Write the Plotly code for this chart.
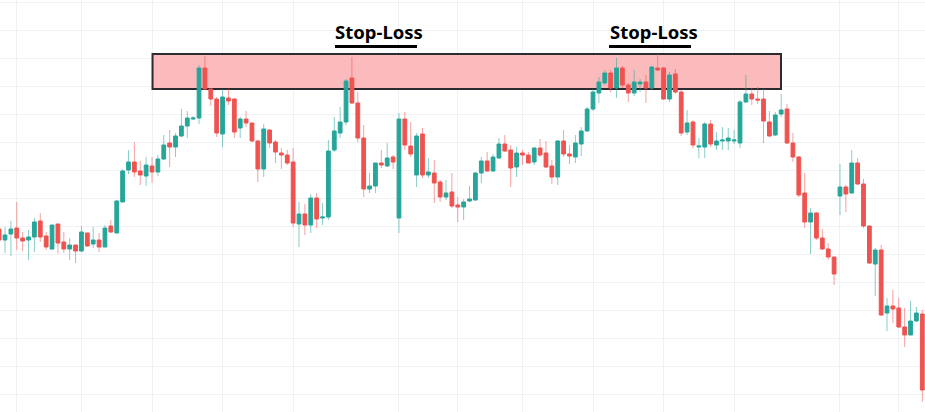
import plotly.graph_objects as go

# ---- data (price units) ----
opens = [271,260,266,272,262,260,263,279,264,251,
         276,258,251,255,249,267,256,260,253,274,
         267,298,330,338,329,324,334,328,341,357,
         353,364,374,381,382,432,411,401,366,402,
         401,372,381,377,359,331,370,358,347,345,
         338,276,286,275,302,282,283,350,367,378,
         422,397,362,311,314,337,334,343,282,381,
         354,325,366,325,327,318,303,308,295,293,
         299,300,327,339,329,342,356,350,333,347,
         345,338,352,347,334,323,359,346,343,356,
         369,391,407,417,427,412,432,415,407,416,
         418,412,432,432,401,426,408,368,378,353,
         353,376,355,359,359,359,357,398,406,401,
         401,378,365,386,391,357,343,307,278,287,
         262,251,243,304,313,307,337,316,274,236,
         250,187,194,192,173,165,179,186]
highs = [276,273,279,298,268,270,282,287,268,275,
         276,268,262,255,274,267,273,267,275,280,
         300,331,350,358,339,343,343,345,365,370,
         367,391,389,384,435,444,411,403,411,411,
         402,383,389,377,360,376,371,360,352,350,
         352,298,296,306,307,297,360,383,393,421,
         443,408,375,327,337,350,357,345,387,388,
         378,367,372,342,340,320,320,327,303,301,
         314,328,343,348,346,362,365,355,353,350,
         348,353,361,359,340,360,370,355,365,373,
         393,411,423,430,430,442,434,417,430,421,
         425,434,446,433,428,431,410,390,380,362,
         378,380,368,373,372,370,400,425,412,413,
         411,389,388,406,396,367,344,327,292,288,
         271,257,243,336,315,350,342,321,274,252,
         255,202,210,202,192,199,193,190]
lows = [252,247,244,250,249,240,248,258,250,250,
        247,247,240,237,248,253,252,248,253,267,
        267,298,326,323,315,314,317,324,340,333,
        343,363,362,380,376,410,394,363,353,395,
        362,362,373,358,318,323,352,337,331,335,
        273,253,265,267,272,275,280,348,362,375,
        396,358,303,307,307,332,333,331,267,350,
        343,313,322,322,297,298,300,292,278,280,
        298,299,317,328,328,341,348,313,323,335,
        337,335,343,332,316,315,343,336,337,344,
        368,389,397,415,408,402,412,398,404,408,
        397,410,429,400,398,406,364,365,352,342,
        342,353,350,350,350,356,352,397,395,396,
        357,363,364,383,356,338,303,272,246,260,
        250,240,215,285,288,306,315,272,236,204,
        184,169,177,172,153,165,178,98]
closes = [260,265,271,262,259,263,278,263,253,275,
          257,251,255,249,268,254,260,253,272,268,
          299,329,338,328,325,335,328,341,355,353,
          364,374,382,382,432,411,401,367,403,399,
          368,381,377,359,331,371,357,348,345,337,
          277,286,275,302,281,283,349,369,378,419,
          397,362,311,314,337,335,342,338,381,355,
          346,364,325,328,317,303,307,294,293,298,
          301,327,339,329,343,356,349,332,347,345,
          337,352,345,333,323,359,346,344,357,369,
          391,408,418,427,412,432,415,407,418,418,
          412,433,430,401,425,408,367,377,355,354,
          376,356,359,360,362,360,398,406,401,400,
          379,364,385,390,357,343,305,278,287,262,
          251,243,226,313,306,337,316,274,237,250,
          185,194,191,173,165,179,187,110]

time_grid = [3, 14, 26, 38, 50, 68, 78, 89, 101, 113, 125, 143, 153]
zone_start, zone_end = 26.09, 132.97
zone_low, zone_high = 411, 446
labels = ["Stop-Loss", "Stop-Loss"]

UP = "#26a69a"
DOWN = "#ef5350"
UP_WICK = "rgba(38,166,154,0.55)"
DOWN_WICK = "rgba(239,83,80,0.55)"

idx = list(range(len(opens)))
body_hi = [max(o, c) for o, c in zip(opens, closes)]
body_lo = [min(o, c) for o, c in zip(opens, closes)]

wx = {"up": [], "down": []}
wy = {"up": [], "down": []}
for i, o, h, l, c in zip(idx, opens, highs, lows, closes):
    k = "up" if c > o else "down"
    bh, bl = max(o, c), min(o, c)
    if h > bh:
        wx[k] += [i, i, None]
        wy[k] += [bh, h, None]
    if l < bl:
        wx[k] += [i, i, None]
        wy[k] += [l, bl, None]

fig = go.Figure()
fig.add_trace(go.Scatter(x=wx["up"], y=wy["up"], mode="lines",
                         line=dict(color=UP_WICK, width=1), hoverinfo="skip", showlegend=False))
fig.add_trace(go.Scatter(x=wx["down"], y=wy["down"], mode="lines",
                         line=dict(color=DOWN_WICK, width=1), hoverinfo="skip", showlegend=False))
fig.add_trace(go.Candlestick(
    x=idx, open=opens, high=body_hi, low=body_lo, close=closes,
    increasing=dict(line=dict(color=UP, width=1), fillcolor=UP),
    decreasing=dict(line=dict(color=DOWN, width=1), fillcolor=DOWN),
    showlegend=False))

fig.add_shape(type="rect", xref="x", yref="y", x0=zone_start, x1=zone_end,
              y0=zone_low, y1=zone_high, fillcolor="#fbbabb",
              line=dict(color="#2b2b30", width=2), layer="between")

for text, xc, ux0, ux1 in [(labels[0], 378.5, 335, 417), (labels[1], 654.3, 609, 691)]:
    fig.add_annotation(x=xc / 925, y=1 - 32 / 412, xref="paper", yref="paper",
                       text="<b>" + text + "</b>", showarrow=False,
                       font=dict(family="Noto Sans", size=18.5, color="#000000"),
                       xanchor="center", yanchor="middle")
    fig.add_shape(type="rect", xref="paper", yref="paper",
                  x0=ux0 / 925, x1=ux1 / 925, y0=1 - 48 / 412, y1=1 - 45 / 412,
                  fillcolor="#000000", line=dict(width=0))

fig.update_layout(
    width=925, height=412, margin=dict(l=0, r=0, t=0, b=0),
    paper_bgcolor="white", plot_bgcolor="white",
    boxgap=0.2, boxgroupgap=0.2,
    xaxis=dict(range=[0.15, 157.46], rangeslider=dict(visible=False),
               tickvals=time_grid, showticklabels=False, showgrid=True,
               gridcolor="#f0f1f4", gridwidth=1, zeroline=False, showline=False, ticks=""),
    yaxis=dict(range=[88, 500], tick0=106, dtick=27.93, showticklabels=False,
               showgrid=True, gridcolor="#f0f1f4", gridwidth=1, zeroline=False,
               showline=False, ticks=""),
)

fig.write_html("out.html")
